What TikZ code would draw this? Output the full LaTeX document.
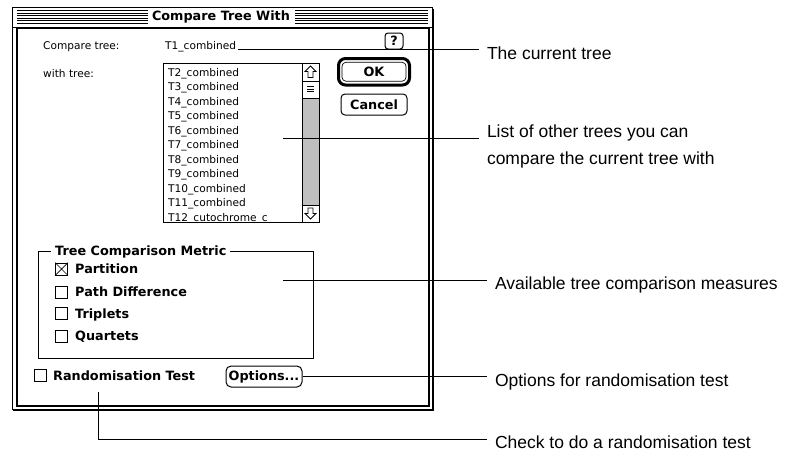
\documentclass[tikz,border=0pt]{standalone}
\usepackage{fontspec}
\setmainfont{Liberation Sans}
\newfontfamily\chicagof{DejaVu Sans}
\newfontfamily\genevaf{DejaVu Sans}
\begin{document}
\begin{tikzpicture}[x=1pt,y=-1pt,
  callout/.style={font=\fontsize{17.5}{27}\selectfont, inner xsep=8.5pt, inner ysep=0pt, outer sep=0pt, align=left},
  callline/.style={line width=1pt},
  chi/.style={font=\chicagof\bfseries\fontsize{12.8}{15}\selectfont, inner sep=0pt},
  gen/.style={font=\genevaf\fontsize{10.6}{14.5}\selectfont, inner sep=0pt, anchor=base west},
  cbox/.style={draw, line width=0.8pt, minimum size=12pt, inner sep=0pt},
  btn/.style={draw, rounded corners=4pt, line width=1pt},
  stripe/.style={line width=0.8pt}]
\useasboundingbox (0,0) rectangle (787,453);

% window frame
\draw[line width=1pt] (12,7.5) rectangle (432.5,409.5);
\draw[line width=1.5pt] (433.5,8.5) -- (433.5,410.5) -- (13,410.5);
\draw[line width=1pt] (12,27) -- (432.5,27);
\draw[line width=2pt] (16.5,28) rectangle (428.5,405.5);

% title bar
\foreach \y in {10.5,13,15.5,18,20.5,23} {
  \draw[stripe] (17,\y) -- (148,\y);
  \draw[stripe] (295,\y) -- (428,\y);
}
\node[chi] (title) at (221,17) {Compare Tree With};

% fields
\node[gen] (cmp) at (43,49) {Compare tree:};
\node[gen] (t1txt) at (165,49) {T1\_combined};
\node[gen] (with) at (43,77) {with tree:};

% help button
\node[btn, chi, rounded corners=3pt, minimum width=18pt, minimum height=16pt] (help) at (394,41) {?};

% list box
\fill[gray!50] (302,98) rectangle (319,205);
\draw[line width=1pt] (163,63) rectangle (319,222);
\draw (302,63) -- (302,222);
\draw (302,81) -- (319,81);
\draw (302,98) -- (319,98);
\draw (302,205) -- (319,205);
\draw[line width=0.7pt] (307,86.5) -- (314,86.5) (307,89) -- (314,89) (307,91.5) -- (314,91.5);
\draw[line width=0.8pt] (310.5,66) -- (316,71.5) -- (313,71.5) -- (313,77.5) -- (308,77.5) -- (308,71.5) -- (305,71.5) -- cycle;
\draw[line width=0.8pt] (310.5,219) -- (316,213.5) -- (313,213.5) -- (313,208) -- (308,208) -- (308,213.5) -- (305,213.5) -- cycle;
\begin{scope}
\clip (164,64) rectangle (301.5,221.5);
\foreach \t [count=\k] in {T2\_combined,T3\_combined,T4\_combined,T5\_combined,T6\_combined,T7\_combined,T8\_combined,T9\_combined,T10\_combined,T11\_combined,T12\_cutochrome\_c}
  \node[gen] (li\k) at (168,{76+(\k-1)*14.5}) {\t};
\end{scope}

% OK / Cancel
\draw[line width=3pt, rounded corners=7pt] (338.5,58.5) rectangle (409.5,85);
\node[btn, line width=0.7pt, minimum width=64pt, minimum height=19pt] (okbtn) at (374,71.75) {};
\node[chi] (okl) at (374,72) {OK};
\node[btn, chi, minimum width=66pt, minimum height=21pt] (cancel) at (374,104.5) {Cancel};

% group box
\draw[line width=0.8pt] (38,251) rectangle (313,358);
\node[chi, fill=white, inner xsep=4pt, anchor=base west] (grp) at (51,255.5) {Tree Comparison Metric};
\node[cbox] (cb1) at (61.5,269) {};
\draw[line width=0.7pt] (cb1.north west) -- (cb1.south east) (cb1.north east) -- (cb1.south west);
\node[cbox] (cb2) at (61.5,292) {};
\node[cbox] (cb3) at (61.5,313.5) {};
\node[cbox] (cb4) at (61.5,336) {};
\node[chi, anchor=base west] (lb1) at (75,273.5) {Partition};
\node[chi, anchor=base west] (lb2) at (75,296.5) {Path Difference};
\node[chi, anchor=base west] (lb3) at (75,318) {Triplets};
\node[chi, anchor=base west] (lb4) at (75,340.5) {Quartets};

% randomisation
\node[cbox] (cbr) at (40,375.5) {};
\node[chi, anchor=base west] (lbr) at (53,380) {Randomisation Test};
\node[btn, chi, rounded corners=5pt, minimum width=76pt, minimum height=21pt] (opt) at (264,376.5) {Options...};

% callouts
\node[callout, anchor=base west] (c1) at (478.5,59) {The current tree};
\node[callout, anchor=north west] (c2) at (478.5,125) {List of other trees you can\\compare the current tree with};
\node[callout, anchor=base west] (c3) at (486.5,289) {Available tree comparison measures};
\node[callout, anchor=base west] (c4) at (486.5,386) {Options for randomisation test};
\node[callout, anchor=base west] (c5) at (486.5,448) {Check to do a randomisation test};

\coordinate (s1) at (238,49.5);
\coordinate (s2) at (283,138);
\coordinate (s3) at (283,280);
\coordinate (s5) at (98,392);
\draw[callline] (s1) -- (s1 -| c1.west);
\draw[callline] (s2) -- (s2 -| c2.west);
\draw[callline] (s3) -- (s3 -| c3.west);
\draw[callline] (opt.east) -- (opt.east -| c4.west);
\draw[callline] (s5) |- ([yshift=9pt]c5.base west);
\end{tikzpicture}
\end{document}
